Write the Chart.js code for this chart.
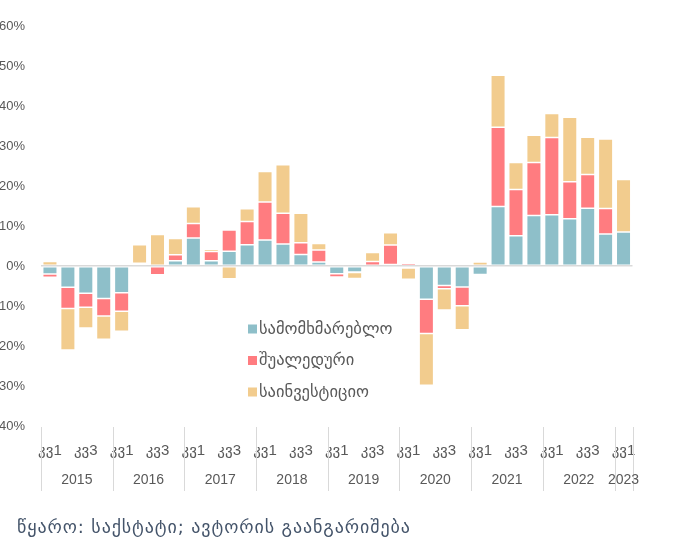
<!DOCTYPE html>
<html><head><meta charset="utf-8">
<script src="https://cdn.jsdelivr.net/npm/chart.js@4.4.1/dist/chart.umd.min.js"></script>
<style>
html,body{margin:0;padding:0;background:#fff;overflow:hidden}
#wrap{position:relative;width:679px;height:542px}
canvas{display:block}
#src{position:absolute;left:17px;top:516px;font:18px 'DejaVu Sans',sans-serif;letter-spacing:0.9px;color:#44546A;white-space:nowrap}
</style></head><body>
<div id="wrap"><canvas id="c" width="679" height="542"></canvas><div id="src">წყარო: საქსტატი; ავტორის გაანგარიშება</div></div>
<script>
// categories: year and quarter of each bar
const catYears = [2015,2015,2015,2015, 2016,2016,2016,2016, 2017,2017,2017,2017, 2018,2018,2018,2018,
                  2019,2019,2019,2019, 2020,2020,2020,2020, 2021,2021,2021,2021, 2022,2022,2022,2022, 2023];
const catQuarters = [1,2,3,4, 1,2,3,4, 1,2,3,4, 1,2,3,4, 1,2,3,4, 1,2,3,4, 1,2,3,4, 1,2,3,4, 1];
const quarterPrefix = 'კვ';
// series (percentage points)
const consumer     = [-2.0,-5.3,-6.8,-8.1, -6.7,0.4,0.2,1.3, 7.0,1.3,3.7,5.3, 6.5,5.5,2.9,1.0,
                      -1.95,-1.5,-0.5,0.4, -0.5,-8.3,-4.9,-5.25, -2.1,14.9,7.55,12.6, 12.8,11.8,14.45,8.0, 8.5];
const intermediate = [-0.8,-5.3,-3.5,-4.4, -4.6,0.3,-2.2,1.5, 3.6,2.3,5.3,5.8, 9.5,7.7,2.9,3.0,
                      -0.8,-0.1,1.1,4.85, 0.7,-8.6,-0.8,-4.7, 0.0,19.8,11.6,13.3, 19.3,9.25,8.45,6.4, -0.4];
const investment   = [1.1,-10.4,-5.2,-5.8, -5.0,4.6,7.7,4.1, 4.2,0.6,-3.2,3.2, 7.6,12.1,7.4,1.6,
                      0.5,-1.5,2.3,3.05, -2.8,-12.9,-5.3,-6.0, 1.0,13.0,6.7,6.8, 6.0,16.15,9.3,17.35, 13.1];
const seriesNames = ['სამომხმარებლო','შუალედური','საინვესტიციო'];
const seriesColors = ['#8EBFC9','#FF7C80','#F2CC8E'];
const yMin = -40, yMax = 60, yStep = 10;

const FONT = "'Liberation Sans','DejaVu Sans',sans-serif";
const labels = catYears.map((y,i)=> y + ' ' + quarterPrefix + catQuarters[i]);

const groupPlugin = {
  id:'groups',
  afterDraw(chart){
    const ctx = chart.ctx, xs = chart.scales.x, area = chart.chartArea;
    const half = (xs.getPixelForValue(1) - xs.getPixelForValue(0)) / 2;
    const groups = [];
    catYears.forEach((y,i)=>{
      const g = groups[groups.length-1];
      if (!g || g.year !== y) groups.push({year:y,start:i,end:i}); else g.end = i;
    });
    ctx.save();
    ctx.strokeStyle = '#d9d9d9'; ctx.lineWidth = 1;
    const top = area.bottom + 1, bottom = area.bottom + 65;
    ctx.fillStyle = '#595959';
    ctx.font = '14px ' + FONT;
    ctx.textAlign = 'center'; ctx.textBaseline = 'middle';
    groups.forEach((g,k)=>{
      const x0 = xs.getPixelForValue(g.start) - half;
      const x1 = xs.getPixelForValue(g.end) + half;
      ctx.beginPath(); ctx.moveTo(Math.round(x0)+0.5, top); ctx.lineTo(Math.round(x0)+0.5, bottom); ctx.stroke();
      if (k === groups.length-1) { ctx.beginPath(); ctx.moveTo(Math.round(x1)+0.5, top); ctx.lineTo(Math.round(x1)+0.5, bottom); ctx.stroke(); }
      ctx.fillText(String(g.year), (x0+x1)/2, area.bottom + 54);
    });
    // legend
    ctx.font = '16.5px ' + FONT;
    ctx.textAlign = 'left';
    chart.data.datasets.forEach((ds,i)=>{
      const y = 329 + i*31.5;
      ctx.fillStyle = ds.backgroundColor;
      ctx.fillRect(248, y-4.5, 9, 9);
      ctx.fillStyle = '#595959';
      ctx.fillText(ds.label, 259, y);
    });
    ctx.restore();
  }
};

const ds = (label, data, color) => ({label, data, backgroundColor: color, borderColor:'#ffffff', borderWidth:0.75, borderSkipped:false});

new Chart(document.getElementById('c'), {
  type:'bar',
  data:{
    labels,
    datasets:[ds(seriesNames[0], consumer, seriesColors[0]), ds(seriesNames[1], intermediate, seriesColors[1]), ds(seriesNames[2], investment, seriesColors[2])]
  },
  options:{
    responsive:false, animation:false,
    layout:{padding:{top:26, right:46.5, left:0, bottom:0}},
    datasets:{bar:{barPercentage:0.81, categoryPercentage:1}},
    plugins:{legend:{display:false}, tooltip:{enabled:false}},
    scales:{
      x:{
        stacked:true,
        grid:{display:false, drawTicks:false},
        border:{display:false},
        afterFit(s){ s.height = 116; },
        ticks:{
          autoSkip:false, maxRotation:0, minRotation:0, padding:16,
          color:'#595959', font:{size:15, family:FONT},
          callback(v,i){ return catQuarters[i] % 2 === 1 ? quarterPrefix + catQuarters[i] : ''; }
        }
      },
      y:{
        stacked:true, min:yMin, max:yMax, z:1,
        afterFit(s){ s.width = 41; },
        border:{display:false},
        grid:{drawTicks:false, color:c => c.tick && c.tick.value === 0 ? '#d9d9d9' : 'rgba(0,0,0,0)', lineWidth:1.5},
        ticks:{stepSize:yStep, padding:16, color:'#595959', font:{size:13, family:FONT}, callback:v => v + '%'}
      }
    }
  },
  plugins:[groupPlugin]
});
</script>
</body></html>
